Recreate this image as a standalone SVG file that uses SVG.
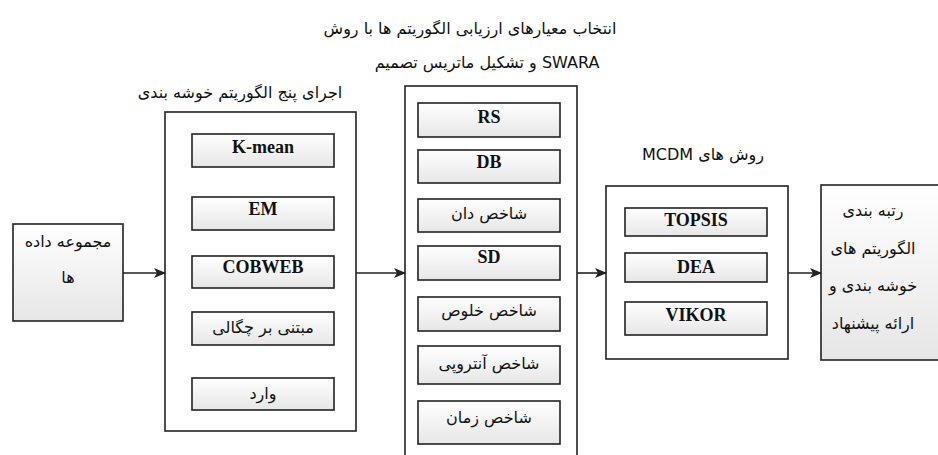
<svg xmlns="http://www.w3.org/2000/svg" width="938" height="455" viewBox="0 0 938 455">
<defs>
<linearGradient id="g" x1="0" y1="0" x2="0" y2="1">
<stop offset="0" stop-color="#ffffff"/>
<stop offset="1" stop-color="#e6e6e6"/>
</linearGradient>
<marker id="arr" markerWidth="12" markerHeight="10" refX="11" refY="5" orient="auto" markerUnits="userSpaceOnUse">
<path d="M0,0 L12,5 L0,10 L3,5 Z" fill="#222"/>
</marker>
<style>
.panel{fill:#fff;stroke:#222;stroke-width:1.6}
.box{fill:url(#g);stroke:#222;stroke-width:1.6}
.en{font-family:"Liberation Serif",serif;font-weight:bold;font-size:18px;fill:#111;text-anchor:middle}
.fa{font-family:"DejaVu Sans","Noto Sans",sans-serif;font-size:16px;fill:#111;text-anchor:middle;direction:rtl}
.ti{font-family:"DejaVu Sans","Noto Sans",sans-serif;font-size:16px;fill:#111;text-anchor:middle;direction:rtl}
.conn{stroke:#222;stroke-width:1.6;fill:none;marker-end:url(#arr)}
</style>
</defs>
<rect width="938" height="455" fill="#fff"/>

<g id="titles">
<text class="ti" x="470" y="34">انتخاب معیارهای ارزیابی الگوریتم ها با روش</text>
<text class="ti" x="487" y="68">SWARA و تشکیل ماتریس تصمیم</text>
<text class="ti" x="240" y="98">اجرای پنج الگوریتم خوشه بندی</text>
<text class="ti" x="703" y="160">روش های MCDM</text>
</g>

<g id="dataset">
<rect class="box" x="13" y="224" width="110" height="97"/>
<text class="fa" x="68" y="247">مجموعه داده</text>
<text class="fa" x="68" y="283">ها</text>
</g>

<g id="clustering">
<rect class="panel" x="165" y="112" width="191" height="319"/>
<g id="kmean"><rect class="box" x="192" y="134" width="142" height="33"/><text class="en" x="263" y="153">K-mean</text></g>
<g id="em"><rect class="box" x="192" y="197" width="142" height="33"/><text class="en" x="263" y="215">EM</text></g>
<g id="cobweb"><rect class="box" x="192" y="256" width="142" height="32"/><text class="en" x="263" y="273">COBWEB</text></g>
<g id="density"><rect class="box" x="192" y="312" width="142" height="33"/><text class="fa" x="263" y="333">مبتنی بر چگالی</text></g>
<g id="ward"><rect class="box" x="192" y="378" width="142" height="32"/><text class="fa" x="263" y="399">وارد</text></g>
</g>

<g id="criteria">
<rect class="panel" x="405" y="86" width="172" height="380"/>
<g id="rs"><rect class="box" x="418" y="103" width="142" height="34"/><text class="en" x="489" y="123">RS</text></g>
<g id="db"><rect class="box" x="418" y="150" width="142" height="33"/><text class="en" x="489" y="168">DB</text></g>
<g id="dunn"><rect class="box" x="418" y="199" width="142" height="33"/><text class="fa" x="489" y="219">شاخص دان</text></g>
<g id="sd"><rect class="box" x="418" y="246" width="142" height="34"/><text class="en" x="489" y="263">SD</text></g>
<g id="purity"><rect class="box" x="418" y="297" width="142" height="34"/><text class="fa" x="489" y="316">شاخص خلوص</text></g>
<g id="entropy"><rect class="box" x="418" y="346" width="142" height="38"/><text class="fa" x="489" y="369">شاخص آنتروپی</text></g>
<g id="time"><rect class="box" x="418" y="401" width="142" height="43"/><text class="fa" x="489" y="423">شاخص زمان</text></g>
</g>

<g id="mcdm">
<rect class="panel" x="606" y="186" width="182" height="173"/>
<g id="topsis"><rect class="box" x="625" y="208" width="142" height="28"/><text class="en" x="696" y="226">TOPSIS</text></g>
<g id="dea"><rect class="box" x="625" y="253" width="142" height="29"/><text class="en" x="696" y="273">DEA</text></g>
<g id="vikor"><rect class="box" x="625" y="302" width="142" height="33"/><text class="en" x="696" y="321">VIKOR</text></g>
</g>

<g id="ranking">
<rect class="box" x="821" y="185" width="130" height="175"/>
<text class="fa" x="873" y="216">رتبه بندی</text>
<text class="fa" x="873" y="254">الگوریتم های</text>
<text class="fa" x="873" y="291">خوشه بندی و</text>
<text class="fa" x="873" y="329">ارائه پیشنهاد</text>
</g>

<g id="connectors">
<line class="conn" x1="123" y1="273" x2="165" y2="273"/>
<line class="conn" x1="356" y1="273" x2="405" y2="273"/>
<line class="conn" x1="577" y1="273" x2="606" y2="273"/>
<line class="conn" x1="788" y1="273" x2="821" y2="273"/>
</g>
</svg>
